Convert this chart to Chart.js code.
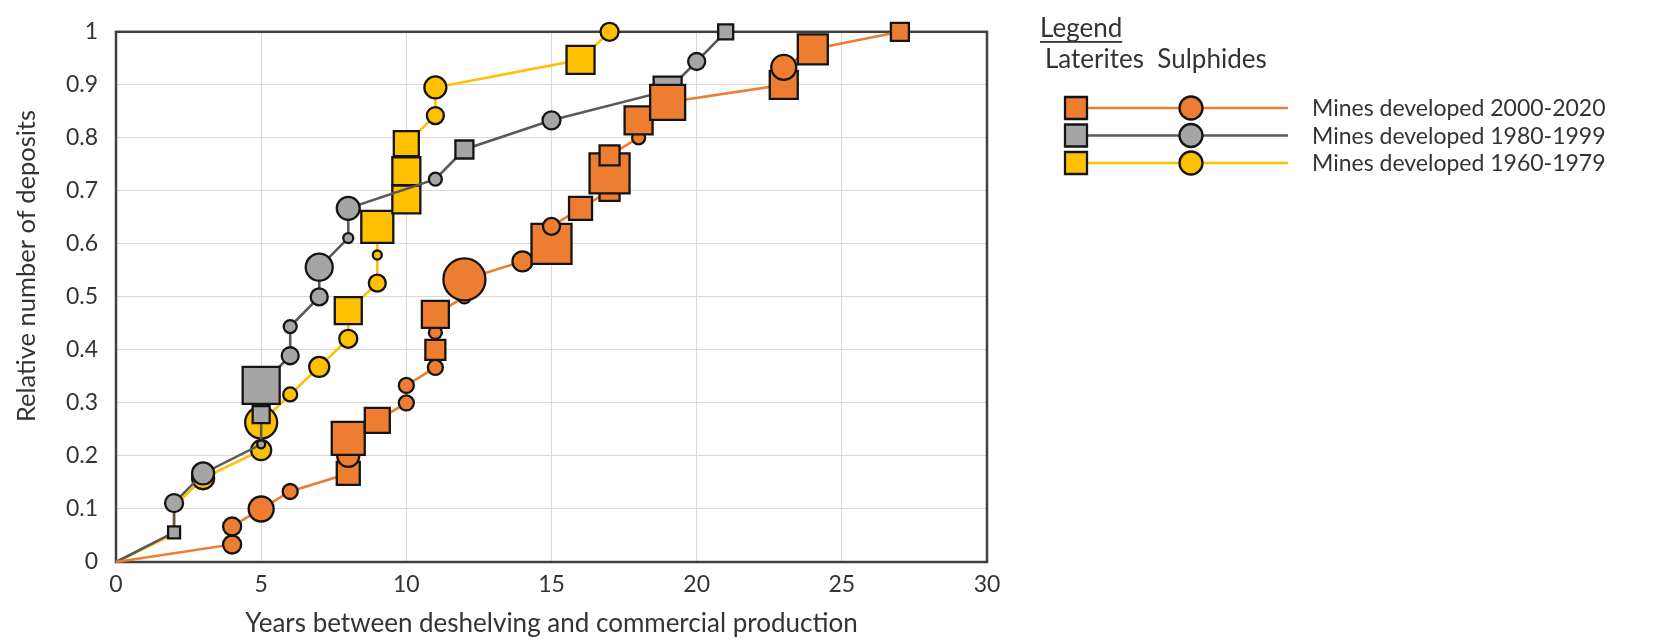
<!DOCTYPE html>
<html>
<head>
<meta charset="utf-8">
<script src="https://cdn.jsdelivr.net/npm/chart.js@4.4.1/dist/chart.umd.min.js"></script>
<style>
  html, body { margin: 0; padding: 0; background: #fff; }
</style>
</head>
<body>
<canvas id="chart" width="1655" height="639"></canvas>
<script>
/***********************
 * DATA
 ***********************/
// marker type per point: L = laterite (square), S = sulphide (circle), - = no marker
const seriesLabels = ["Mines developed 2000-2020", "Mines developed 1980-1999", "Mines developed 1960-1979"];

const years2000 = [0, 4, 4, 5, 6, 8, 8, 8, 9, 10, 10, 11, 11, 11, 11, 12, 12, 14, 15, 15, 16, 17, 17, 17, 18, 18, 19, 23, 23, 24, 27];
const share2000 = [0, 0.033, 0.067, 0.1, 0.133, 0.167, 0.2, 0.233, 0.267, 0.3, 0.333, 0.367, 0.4, 0.433, 0.467, 0.5, 0.533, 0.567, 0.6, 0.633, 0.667, 0.7, 0.733, 0.767, 0.8, 0.833, 0.867, 0.9, 0.933, 0.967, 1];
const type2000 = ["-", "S", "S", "S", "S", "L", "S", "L", "L", "S", "S", "S", "L", "S", "L", "S", "S", "S", "L", "S", "L", "L", "L", "L", "S", "L", "L", "L", "S", "L", "L"];

const years1980 = [0, 2, 2, 3, 5, 5, 5, 6, 6, 7, 7, 8, 8, 11, 12, 15, 19, 20, 21];
const share1980 = [0, 0.056, 0.111, 0.167, 0.222, 0.278, 0.333, 0.389, 0.444, 0.5, 0.556, 0.611, 0.667, 0.722, 0.778, 0.833, 0.889, 0.944, 1];
const type1980 = ["-", "L", "S", "S", "S", "L", "L", "S", "S", "S", "S", "S", "S", "S", "L", "S", "L", "S", "L"];

const years1960 = [0, 2, 2, 3, 5, 5, 6, 7, 8, 8, 9, 9, 9, 10, 10, 10, 11, 11, 16, 17];
const share1960 = [0, 0.053, 0.105, 0.158, 0.211, 0.263, 0.316, 0.368, 0.421, 0.474, 0.526, 0.579, 0.632, 0.684, 0.737, 0.789, 0.842, 0.895, 0.947, 1];
const type1960 = ["-", "S", "S", "S", "S", "S", "S", "S", "S", "L", "S", "S", "L", "L", "L", "L", "S", "S", "L", "S"];

const xTicks = [0, 5, 10, 15, 20, 25, 30];
const yTickLabels = ["0", "0.1", "0.2", "0.3", "0.4", "0.5", "0.6", "0.7", "0.8", "0.9", "1"];

/***********************
 * STYLE
 ***********************/
// marker size in px (square side / circle diameter)
const size2000 = [0, 18, 18, 25, 15, 23, 22, 33, 25, 15, 15, 15, 20, 13, 27, 13, 42, 20, 40, 17, 23, 20, 40, 20, 13, 28, 35, 28, 25, 30, 18];
const size1980 = [0, 12, 18, 22, 8, 17, 37, 17, 13, 17, 27, 10, 23, 13, 18, 18, 28, 17, 15];
const size1960 = [0, 8, 8, 22, 20, 32, 14, 20, 18, 27, 17, 9, 32, 28, 28, 25, 17, 22, 28, 18];

const FONT = "Lato";
const TEXT = "#333";
const LINE_COLORS = ["#ED7D31", "#595959", "#FFC000"];
const FILL_COLORS = ["#ED7D31", "#A5A5A5", "#FFC000"];

function makeSeries(i, years, share, types, sizes) {
    return {
        label: seriesLabels[i],
        data: years.map((x, k) => ({ x, y: share[k] })),
        showLine: true,
        borderColor: LINE_COLORS[i],
        borderWidth: 2.6,
        backgroundColor: FILL_COLORS[i],
        pointBackgroundColor: FILL_COLORS[i],
        pointBorderColor: "#141414",
        pointBorderWidth: 2.3,
        pointStyle: types.map(t => t === "L" ? "rect" : "circle"),
        // rect radius -> side = r * sqrt(2)
        pointRadius: types.map((t, k) => t === "-" ? 0 : t === "L" ? sizes[k] / Math.SQRT2 : sizes[k] / 2),
        tension: 0,
        clip: false
    };
}

/***********************
 * PLUGINS
 ***********************/
const frame = {
    id: "frame",
    beforeDatasetsDraw(chart) {
        const { ctx, chartArea: a } = chart;
        ctx.save();
        ctx.strokeStyle = "#404040";
        ctx.lineWidth = 2.5;
        ctx.strokeRect(a.left, a.top, a.right - a.left, a.bottom - a.top);
        ctx.restore();
    }
};

const extras = {
    id: "extras",
    afterDraw(chart) {
        const ctx = chart.ctx;
        ctx.save();
        ctx.fillStyle = TEXT;
        ctx.textBaseline = "middle";

        // y axis title
        ctx.font = `25.5px ${FONT}`;
        ctx.save();
        ctx.translate(27, 266);
        ctx.rotate(-Math.PI / 2);
        ctx.textAlign = "center";
        ctx.fillText("Relative number of deposits", 0, 0);
        ctx.restore();

        // legend header
        ctx.textAlign = "left";
        ctx.font = `26px ${FONT}`;
        ctx.fillText("Legend", 1040, 29);
        ctx.fillRect(1040, 41, ctx.measureText("Legend").width, 1.8);
        ctx.fillText("Laterites  Sulphides", 1045, 60);

        ctx.font = `23px ${FONT}`;
        chart.data.datasets.forEach((ds, i) => {
            const y = 108 + i * 27.5;
            ctx.strokeStyle = ds.borderColor;
            ctx.lineWidth = 2.6;
            ctx.beginPath();
            ctx.moveTo(1076, y);
            ctx.lineTo(1288, y);
            ctx.stroke();

            ctx.fillStyle = ds.pointBackgroundColor;
            ctx.strokeStyle = "#141414";
            ctx.lineWidth = 2.3;
            ctx.beginPath();
            ctx.rect(1065, y - 11, 22, 22);
            ctx.fill();
            ctx.stroke();
            ctx.beginPath();
            ctx.arc(1191, y, 11.5, 0, Math.PI * 2);
            ctx.fill();
            ctx.stroke();

            ctx.fillStyle = TEXT;
            ctx.fillText(ds.label, 1312, y + 1);
        });
        ctx.restore();
    }
};

/***********************
 * CHART
 ***********************/
new Chart(document.getElementById("chart"), {
    type: "scatter",
    data: {
        datasets: [
            makeSeries(0, years2000, share2000, type2000, size2000),
            makeSeries(1, years1980, share1980, type1980, size1980),
            makeSeries(2, years1960, share1960, type1960, size1960)
        ]
    },
    options: {
        responsive: false,
        animation: false,
        events: [],
        layout: { padding: { top: 21, right: 668, bottom: 0, left: 0 } },
        plugins: { legend: { display: false }, tooltip: { enabled: false } },
        scales: {
            x: {
                min: 0,
                max: 30,
                afterFit: s => { s.height = 77; },
                afterBuildTicks: s => { s.ticks = xTicks.map(v => ({ value: v })); },
                grid: { color: "#D9D9D9", lineWidth: 1, drawTicks: false },
                border: { display: false },
                ticks: { padding: 9, color: TEXT, font: { family: FONT, size: 23 }, maxRotation: 0 },
                title: {
                    display: true,
                    text: "Years between deshelving and commercial production",
                    color: TEXT,
                    font: { family: FONT, size: 26 },
                    padding: { top: 0, bottom: 0 }
                }
            },
            y: {
                min: 0,
                max: 1,
                afterFit: s => { s.width = 116; },
                afterBuildTicks: s => { s.ticks = yTickLabels.map(t => ({ value: Number(t) })); },
                grid: { color: "#D9D9D9", lineWidth: 1, drawTicks: false },
                border: { display: false },
                ticks: {
                    padding: 18,
                    color: TEXT,
                    font: { family: FONT, size: 23 },
                    callback: (v, i) => yTickLabels[i]
                }
            }
        }
    },
    plugins: [frame, extras]
});
</script>
</body>
</html>
